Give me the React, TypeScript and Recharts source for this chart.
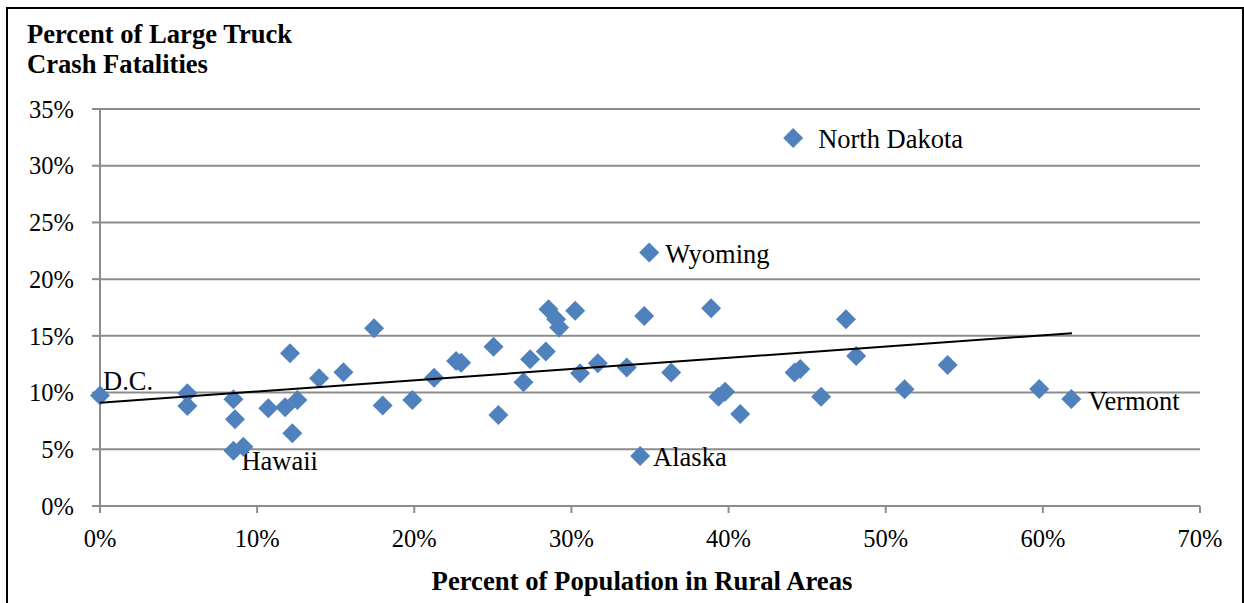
import { ScatterChart, Scatter, XAxis, YAxis, CartesianGrid } from 'recharts';

// Percent of population in rural areas (x) vs percent of large truck crash fatalities (y), by state
const ruralPct = [
  0, 5.56, 5.56, 8.49, 8.59, 8.49, 9.12, 10.71, 11.78, 12.56,
  12.09, 12.24, 13.94, 15.49, 17.44, 17.99, 19.88, 21.26, 22.66, 22.98,
  25.04, 25.35, 26.95, 27.37, 28.37, 28.54, 29.03, 29.22, 30.24, 30.55,
  31.68, 33.52, 34.63, 34.37, 34.95, 36.35, 38.89, 39.78, 39.36, 40.74,
  44.11, 44.2, 44.56, 45.89, 47.47, 48.12, 51.2, 53.94, 59.77, 61.81,
];
const truckFatalPct = [
  9.75, 9.94, 8.82, 9.41, 7.65, 4.88, 5.23, 8.61, 8.7, 9.35,
  13.47, 6.41, 11.26, 11.79, 15.67, 8.85, 9.35, 11.31, 12.79, 12.64,
  14.05, 8.02, 10.91, 12.93, 13.61, 17.35, 16.46, 15.73, 17.22, 11.7,
  12.58, 12.2, 16.75, 4.41, 22.34, 11.76, 17.43, 10.08, 9.64, 8.11,
  32.45, 11.76, 12.08, 9.64, 16.46, 13.23, 10.29, 12.43, 10.32, 9.44,
];
const pointLabels: Record<number, string> = {
  0: 'D.C.',
  5: 'Hawaii',
  33: 'Alaska',
  34: 'Wyoming',
  40: 'North Dakota',
  49: 'Vermont',
};

// linear trend line end points
const trendRural = [0, 61.85];
const trendFatal = [9.11, 15.23];

const xTicks = [0, 10, 20, 30, 40, 50, 60, 70];
const yTicks = [0, 5, 10, 15, 20, 25, 30, 35];

const states = ruralPct.map((x, i) => ({ x, y: truckFatalPct[i], label: pointLabels[i] }));
const trend = trendRural.map((x, i) => ({ x, y: trendFatal[i] }));

const labelOffset: Record<string, [number, number]> = {
  'D.C.': [3, -5],
  Hawaii: [8, 19],
  Alaska: [13, 10],
  Wyoming: [16, 10],
  'North Dakota': [25, 10],
  Vermont: [17, 11],
};

const serif = '"Liberation Serif", "Times New Roman", serif';
const gray = '#8c8c8c';

const StateMark = (props: any) => {
  const { cx, cy, payload } = props;
  const r = 10;
  const lbl = payload && payload.label;
  const off = lbl ? labelOffset[lbl] : [0, 0];
  return (
    <g>
      <path d={`M${cx},${cy - r}L${cx + r},${cy}L${cx},${cy + r}L${cx - r},${cy}Z`} fill="#4F81BD" />
      {lbl && (
        <text x={cx + off[0]} y={cy + off[1]} fontSize={26.5} fontFamily={serif} fill="#000">
          {lbl}
        </text>
      )}
    </g>
  );
};

export default function App() {
  return (
    <div style={{ fontFamily: serif }}>
      <div
        style={{
          position: 'absolute',
          left: 6,
          top: 7,
          width: 1238,
          height: 596,
          border: '2px solid #000',
          borderBottom: 'none',
          boxSizing: 'border-box',
        }}
      />
      <div
        style={{
          position: 'absolute',
          left: 27,
          top: 19,
          fontSize: 26.6,
          lineHeight: '30px',
          fontWeight: 'bold',
          color: '#000',
        }}
      >
        Percent of Large Truck
        <br />
        Crash Fatalities
      </div>
      <div style={{ position: 'absolute', left: 0, top: 0 }}>
        <ScatterChart width={1244} height={603} margin={{ top: 109, right: 44, bottom: 57, left: 0 }}>
          <CartesianGrid vertical={false} stroke={gray} strokeWidth={2} />
          <XAxis
            type="number"
            dataKey="x"
            domain={[0, 70]}
            ticks={xTicks}
            interval={0}
            tickFormatter={(v) => `${v}%`}
            height={40}
            stroke={gray}
            strokeWidth={2}
            tickSize={7}
            tickMargin={17}
            tick={{ fill: '#000', fontSize: 24.5, fontFamily: serif }}
          />
          <YAxis
            type="number"
            dataKey="y"
            domain={[0, 35]}
            ticks={yTicks}
            interval={0}
            tickFormatter={(v) => `${v}%`}
            width={100}
            stroke={gray}
            strokeWidth={2}
            tickSize={8}
            tickMargin={18}
            tick={{ fill: '#000', fontSize: 24.5, fontFamily: serif }}
          />
          <Scatter data={states} shape={StateMark} isAnimationActive={false} />
          <Scatter
            data={trend}
            line={{ stroke: '#000', strokeWidth: 2 }}
            shape={() => <g />}
            isAnimationActive={false}
          />
        </ScatterChart>
      </div>
      <div
        style={{
          position: 'absolute',
          left: 342,
          top: 566,
          width: 600,
          textAlign: 'center',
          fontSize: 26.7,
          lineHeight: '30px',
          fontWeight: 'bold',
          color: '#000',
        }}
      >
        Percent of Population in Rural Areas
      </div>
    </div>
  );
}
